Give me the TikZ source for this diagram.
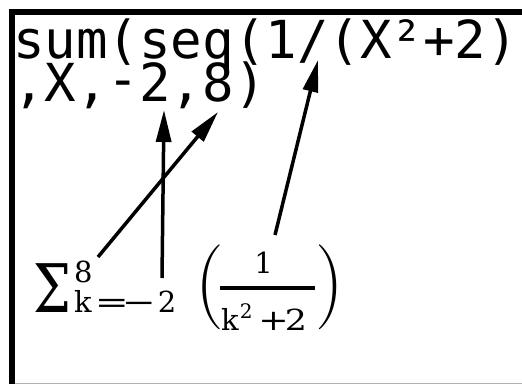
\documentclass[tikz,border=0pt]{standalone}
\usepackage{graphicx}
\usepackage{fontspec}
\newfontfamily\calcfont{DejaVu Sans Mono}
\newfontfamily\serif{DejaVu Serif}
\usetikzlibrary{arrows.meta}
\begin{document}
\begin{tikzpicture}[x=1pt,y=-1pt,
  calc/.style={font=\calcfont\fontsize{52.4}{52.4}\selectfont, inner sep=0pt, anchor=base west},
  sm/.style={font=\serif\fontsize{29}{29}\selectfont, inner sep=0pt, anchor=base west},
  big/.style={inner sep=0pt, anchor=base west},
  arr/.style={line width=3.5pt, -{Triangle[length=32pt,width=15pt]}}]
\useasboundingbox (0,0) rectangle (522,384);
\fill[white] (0,0) rectangle (522,384);
\fill[black] (9,9) rectangle (522,14.5);
\fill[black] (9,9) rectangle (14.5,384);
\fill[black!30] (14.5,382.5) rectangle (522,384);
% calculator screen text
\node[calc] (line1) at (13,58) {sum(seq(1/(X²+2)};
\node[calc] (line2) at (13,101) {,X,\raisebox{4pt}{-}2,8)};
% formula
\node[big] (sigma) at (33,312) {\scalebox{0.8}[1]{\serif\fontsize{67}{67}\selectfont Σ}};
\node[sm] (upper) at (74,282) {8};
\node[sm] (lower) at (74,312) {k\kern3pt\scalebox{1.4}[1]{=}\kern-7pt\scalebox{1.4}[1]{−}\hspace{2pt}2};
\node[big] (lparen) at (195,308.75) {\scalebox{0.95}[1]{\fontsize{85}{85}\selectfont (}};
\node[big] (rparen) at (315,308.75) {\scalebox{0.95}[1]{\fontsize{85}{85}\selectfont )}};
\node[sm, anchor=base] (num) at (263.5,273) {1};
\node[sm] (den) at (221,330) {k\kern1pt\raisebox{12pt}{\fontsize{20}{20}\selectfont 2}\hspace{6pt}\scalebox{1.25}[1]{+}\kern-4pt\scalebox{1.2}[1]{2}};
\coordinate (barL) at (220,287.5);
\coordinate (barR) at (315,287.5);
\draw[line width=4pt] (barL) -- (barR);
% arrows
\coordinate (negtip) at (164,110);
\coordinate (negtail) at (162,278);
\coordinate (eighttip) at (218,112);
\coordinate (eighttail) at (98,257);
\coordinate (slashtip) at (318,60);
\coordinate (slashtail) at (275,235);
\draw[arr] (eighttail) -- (eighttip);
\draw[arr] (negtail) -- (negtip);
\draw[arr] (slashtail) -- (slashtip);
\end{tikzpicture}
\end{document}
